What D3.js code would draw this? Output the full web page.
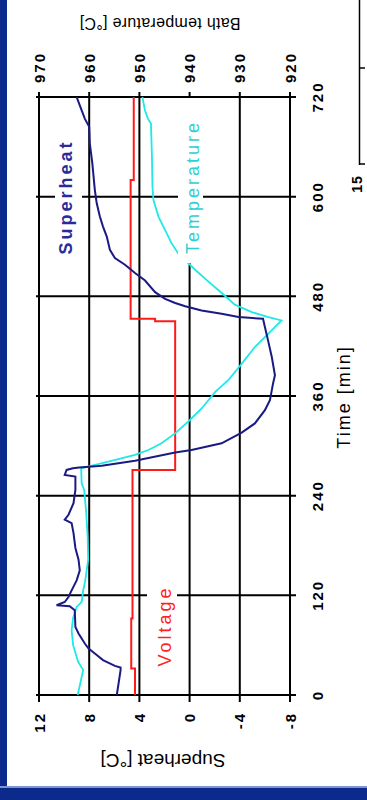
<!DOCTYPE html>
<html><head><meta charset="utf-8">
<script src="https://cdn.jsdelivr.net/npm/d3@7"></script>
<style>html,body{margin:0;padding:0;background:#fff;overflow:hidden}</style>
</head><body>
<svg id="c" width="367" height="800"></svg>
<script>
const timeTicks = [0, 120, 240, 360, 480, 600, 720];
const superheatTicks = [12, 8, 4, 0, -4, -8];
const bathTicks = [970, 960, 950, 940, 930, 920];

const superheatTime = [0, 30, 33, 35, 42, 50, 56, 62, 74, 82, 102, 107, 108, 112, 118, 126, 138, 150, 163, 177, 195, 207, 211, 217, 231, 247, 263, 265, 271, 273, 274, 276, 282, 292, 295, 303, 316, 327, 343, 355, 367, 375, 385, 407, 427, 443, 453, 455, 459, 463, 468, 472, 477, 485, 499, 508, 518, 526, 536, 552, 564, 576, 592, 608, 640, 664, 684, 694, 704, 716, 720];
const superheatValues = [5.8, 5.5, 5.5, 5.95, 6.9, 7.55, 8.05, 8.35, 8.85, 9.1, 9.15, 9.55, 10.6, 9.95, 9.65, 9.4, 9.0, 8.75, 8.85, 9.1, 9.25, 9.4, 9.95, 9.65, 9.25, 9.1, 9.1, 9.95, 9.8, 9.3, 8.8, 7.0, 4.35, 1.15, -0.15, -2.55, -4.15, -5.2, -6.0, -6.4, -6.55, -6.65, -6.8, -6.55, -6.25, -6.0, -5.85, -3.9, -2.55, -0.95, 0.35, 1.15, 1.95, 2.75, 3.55, 4.35, 5.15, 5.95, 6.35, 6.6, 6.9, 7.15, 7.4, 7.55, 7.75, 7.95, 8.0, 8.35, 8.6, 8.9, 9.0];

const bathTime = [0, 30, 40, 60, 78, 93, 106, 112, 126, 137, 163, 190, 220, 247, 255, 273, 277, 284, 289, 295, 303, 315, 329, 345, 365, 379, 399, 419, 435, 451, 455, 461, 470, 484, 498, 512, 532, 544, 560, 576, 596, 612, 648, 688, 694, 704, 720];
const bathValues = [962.3, 961.2, 962.2, 963.2, 963.5, 963.2, 962.5, 961.5, 961.2, 960.8, 960.2, 960.3, 960.6, 961.0, 961.5, 961.6, 958.8, 954.2, 950.9, 948.2, 945.6, 942.9, 940.3, 937.6, 934.9, 932.3, 929.6, 927.0, 924.3, 921.7, 924.3, 927.6, 931.0, 933.6, 936.3, 938.9, 942.3, 943.6, 944.9, 946.2, 947.2, 947.4, 947.5, 947.7, 948.3, 948.9, 949.4];

// voltage trace (no own axis; read against the superheat axis)
const voltageTime = [0, 32, 92, 271, 450, 453, 620, 720];
const voltageLevel = [4.35, 4.65, 4.55, 1.15, 2.75, 4.7, 4.45, 4.45];

const svg = d3.select('#c');
const yT = d3.scaleLinear().domain([0, 720]).range([695, 97]);
const xS = d3.scaleLinear().domain([12, -8]).range([39, 290]);
const xB = d3.scaleLinear().domain([970, 920]).range([39, 290]);

// frame pieces (slide background)
svg.append('rect').attr('x', 0).attr('y', 0).attr('width', 367).attr('height', 800).attr('fill', '#fff');
svg.append('rect').attr('x', 0).attr('y', 0).attr('width', 7).attr('height', 800).attr('fill', '#0b2a8c');
svg.append('rect').attr('x', 0).attr('y', 786).attr('width', 367).attr('height', 2).attr('fill', '#7d95d6');
svg.append('rect').attr('x', 0).attr('y', 788).attr('width', 367).attr('height', 12).attr('fill', '#0b2a8c');

// neighbouring chart fragment
svg.append('line').attr('x1', 359.5).attr('x2', 359.5).attr('y1', 0).attr('y2', 165).attr('stroke', '#000').attr('stroke-width', 1.5);
svg.append('line').attr('x1', 359).attr('x2', 365).attr('y1', 68).attr('y2', 68).attr('stroke', '#000').attr('stroke-width', 1.5);
svg.append('line').attr('x1', 359).attr('x2', 365).attr('y1', 164).attr('y2', 164).attr('stroke', '#000').attr('stroke-width', 1.5);
svg.append('text').attr('transform', 'translate(362,184) rotate(-90)').attr('text-anchor', 'middle')
  .attr('font-family', 'Liberation Sans, Arial, sans-serif').attr('font-weight', 'bold').attr('font-size', 14).attr('letter-spacing', 1).text('15');

// grid
const grid = svg.append('g').attr('stroke', '#000').attr('stroke-width', 2);
grid.selectAll('line.h').data(timeTicks).join('line').attr('class', 'h')
  .attr('x1', 36).attr('x2', 296).attr('y1', d => yT(d)).attr('y2', d => yT(d));
grid.selectAll('line.v').data(superheatTicks).join('line').attr('class', 'v')
  .attr('x1', d => xS(d)).attr('x2', d => xS(d)).attr('y1', 92).attr('y2', 702);

// series
const shData = superheatTime.map((t, i) => [t, superheatValues[i]]);
const bathData = bathTime.map((t, i) => [t, bathValues[i]]);
const voltData = voltageTime.map((t, i) => [t, voltageLevel[i]]);

svg.append('path').datum(voltData).attr('fill', 'none').attr('stroke', '#ff1a1a').attr('stroke-width', 2)
  .attr('d', d3.line().x(d => xS(d[1])).y(d => yT(d[0])).curve(d3.curveStepBefore));
svg.append('path').datum(bathData).attr('fill', 'none').attr('stroke', '#1ee8e8').attr('stroke-width', 1.8)
  .attr('d', d3.line().x(d => xB(d[1])).y(d => yT(d[0])));
svg.append('path').datum(shData).attr('fill', 'none').attr('stroke', '#1a1a84').attr('stroke-width', 2)
  .attr('d', d3.line().x(d => xS(d[1])).y(d => yT(d[0])));

// series labels with white boxes
function label(x, y, txt, color, size, weight, ls, box) {
  const g = svg.append('g').attr('transform', `translate(${x},${y}) rotate(-90)`);
  g.append('rect').attr('x', box[0]).attr('y', box[1]).attr('width', box[2]).attr('height', box[3]).attr('fill', '#fff');
  g.append('text').attr('text-anchor', 'middle').attr('fill', color)
    .attr('font-family', 'Liberation Sans, Arial, sans-serif').attr('font-size', size).attr('font-weight', weight)
    .attr('letter-spacing', ls).text(txt);
}
label(72, 197, 'Superheat', '#2a2a9c', 18, 'bold', 3, [-62, -17, 124, 27]);
label(199, 187, 'Temperature', '#2ed0d0', 18, 'normal', 3, [-76, -21, 165, 25]);
label(171, 626, 'Voltage', '#ff2020', 18, 'normal', 3, [-45, -24, 90, 30]);

// tick labels
const font = 'Liberation Sans, Arial, sans-serif';
svg.append('g').selectAll('text').data(timeTicks).join('text')
  .attr('transform', d => `translate(323,${yT(d)}) rotate(-90)`).attr('text-anchor', 'middle')
  .attr('font-family', font).attr('font-weight', 'bold').attr('font-size', 15).attr('letter-spacing', 2).text(d => d);
svg.append('g').selectAll('text').data(superheatTicks).join('text')
  .attr('transform', d => `translate(${xS(d) + 5.5},712) rotate(-90)`).attr('text-anchor', 'end')
  .attr('font-family', font).attr('font-weight', 'bold').attr('font-size', 15).attr('letter-spacing', 2).text(d => d);
svg.append('g').selectAll('text').data(bathTicks).join('text')
  .attr('transform', d => `translate(${xB(d) + 5.5},83) rotate(-90)`).attr('text-anchor', 'start')
  .attr('font-family', font).attr('font-weight', 'bold').attr('font-size', 15).attr('letter-spacing', 2).text(d => d);

// axis titles
svg.append('text').attr('transform', 'translate(350,397) rotate(-90)').attr('text-anchor', 'middle')
  .attr('font-family', font).attr('font-size', 18).attr('letter-spacing', 2).text('Time [min]');
svg.append('text').attr('transform', 'translate(163,754) rotate(180)').attr('text-anchor', 'middle')
  .attr('font-family', font).attr('font-size', 19).text('Superheat [°C]');
svg.append('text').attr('transform', 'translate(160,18) rotate(180)').attr('text-anchor', 'middle')
  .attr('font-family', font).attr('font-size', 16).attr('letter-spacing', 0.3).text('Bath temperature [°C]');
</script>
</body></html>
